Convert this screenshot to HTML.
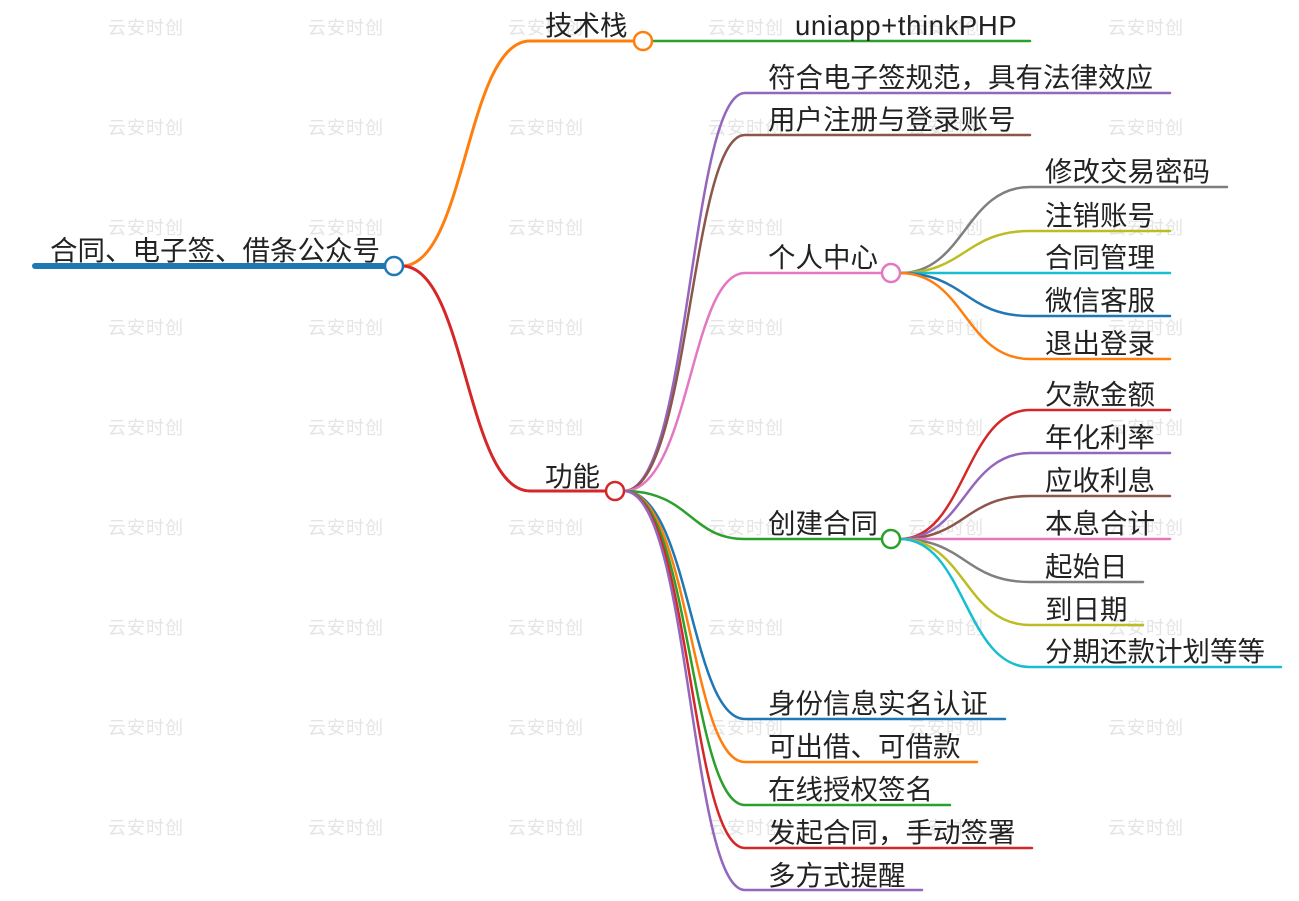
<!DOCTYPE html>
<html><head><meta charset="utf-8"><style>
html,body{margin:0;padding:0;background:#fff;}
svg{display:block;}
text{font-family:"Liberation Sans","Noto Sans CJK SC",sans-serif;font-size:27.5px;fill:#222;}
.wm{font-size:18px;fill:#e4e4e4;letter-spacing:1px;}
</style></head><body>
<svg width="1299" height="901" viewBox="0 0 1299 901" xmlns="http://www.w3.org/2000/svg">
<g class="wmg">
<text class="wm" x="108" y="34">云安时创</text><text class="wm" x="308" y="34">云安时创</text><text class="wm" x="508" y="34">云安时创</text><text class="wm" x="708" y="34">云安时创</text><text class="wm" x="908" y="34">云安时创</text><text class="wm" x="1108" y="34">云安时创</text>
<text class="wm" x="108" y="134">云安时创</text><text class="wm" x="308" y="134">云安时创</text><text class="wm" x="508" y="134">云安时创</text><text class="wm" x="708" y="134">云安时创</text><text class="wm" x="908" y="134">云安时创</text><text class="wm" x="1108" y="134">云安时创</text>
<text class="wm" x="108" y="234">云安时创</text><text class="wm" x="308" y="234">云安时创</text><text class="wm" x="508" y="234">云安时创</text><text class="wm" x="708" y="234">云安时创</text><text class="wm" x="908" y="234">云安时创</text><text class="wm" x="1108" y="234">云安时创</text>
<text class="wm" x="108" y="334">云安时创</text><text class="wm" x="308" y="334">云安时创</text><text class="wm" x="508" y="334">云安时创</text><text class="wm" x="708" y="334">云安时创</text><text class="wm" x="908" y="334">云安时创</text><text class="wm" x="1108" y="334">云安时创</text>
<text class="wm" x="108" y="434">云安时创</text><text class="wm" x="308" y="434">云安时创</text><text class="wm" x="508" y="434">云安时创</text><text class="wm" x="708" y="434">云安时创</text><text class="wm" x="908" y="434">云安时创</text><text class="wm" x="1108" y="434">云安时创</text>
<text class="wm" x="108" y="534">云安时创</text><text class="wm" x="308" y="534">云安时创</text><text class="wm" x="508" y="534">云安时创</text><text class="wm" x="708" y="534">云安时创</text><text class="wm" x="908" y="534">云安时创</text><text class="wm" x="1108" y="534">云安时创</text>
<text class="wm" x="108" y="634">云安时创</text><text class="wm" x="308" y="634">云安时创</text><text class="wm" x="508" y="634">云安时创</text><text class="wm" x="708" y="634">云安时创</text><text class="wm" x="908" y="634">云安时创</text><text class="wm" x="1108" y="634">云安时创</text>
<text class="wm" x="108" y="734">云安时创</text><text class="wm" x="308" y="734">云安时创</text><text class="wm" x="508" y="734">云安时创</text><text class="wm" x="708" y="734">云安时创</text><text class="wm" x="908" y="734">云安时创</text><text class="wm" x="1108" y="734">云安时创</text>
<text class="wm" x="108" y="834">云安时创</text><text class="wm" x="308" y="834">云安时创</text><text class="wm" x="508" y="834">云安时创</text><text class="wm" x="708" y="834">云安时创</text><text class="wm" x="908" y="834">云安时创</text><text class="wm" x="1108" y="834">云安时创</text>
</g>
<g fill="none" stroke-linecap="round">
<line x1="35" y1="266" x2="385" y2="266" stroke="#1f77b4" stroke-width="6"/>
<path d="M402,266 C466,266 466,41 530,41" stroke="#ff7f0e" stroke-width="3"/>
<line x1="530" y1="41" x2="634" y2="41" stroke="#ff7f0e" stroke-width="3"/>
<path d="M402,266 C466,266 466,491 530,491" stroke="#d62728" stroke-width="3"/>
<line x1="530" y1="491" x2="606" y2="491" stroke="#d62728" stroke-width="3"/>
<line x1="652" y1="41" x2="1030" y2="41" stroke="#2ca02c" stroke-width="2.5"/>
<path d="M624,491 C690,491 690,93 745,93 L1170,93" stroke="#9467bd" stroke-width="2.5"/>
<path d="M624,491 C690,491 690,135 745,135 L1030,135" stroke="#8c564b" stroke-width="2.5"/>
<path d="M624,491 C690,491 690,273 745,273 L882,273" stroke="#e377c2" stroke-width="2.5"/>
<path d="M624,491 C690,491 690,539 745,539 L882,539" stroke="#2ca02c" stroke-width="2.5"/>
<path d="M624,491 C690,491 690,719 745,719 L1005,719" stroke="#1f77b4" stroke-width="2.5"/>
<path d="M624,491 C690,491 690,762 745,762 L977,762" stroke="#ff7f0e" stroke-width="2.5"/>
<path d="M624,491 C690,491 690,805 745,805 L950,805" stroke="#2ca02c" stroke-width="2.5"/>
<path d="M624,491 C690,491 690,848 745,848 L1032,848" stroke="#d62728" stroke-width="2.5"/>
<path d="M624,491 C690,491 690,890 745,890 L922,890" stroke="#9467bd" stroke-width="2.5"/>
<path d="M900,273 C965,273 965,187 1030,187 L1227,187" stroke="#7f7f7f" stroke-width="2.5"/>
<path d="M900,273 C965,273 965,231 1030,231 L1170,231" stroke="#bcbd22" stroke-width="2.5"/>
<path d="M900,273 L1170,273" stroke="#17becf" stroke-width="2.5"/>
<path d="M900,273 C965,273 965,316 1030,316 L1170,316" stroke="#1f77b4" stroke-width="2.5"/>
<path d="M900,273 C965,273 965,359 1030,359 L1170,359" stroke="#ff7f0e" stroke-width="2.5"/>
<path d="M900,539 C965,539 965,410 1030,410 L1170,410" stroke="#d62728" stroke-width="2.5"/>
<path d="M900,539 C965,539 965,453 1030,453 L1170,453" stroke="#9467bd" stroke-width="2.5"/>
<path d="M900,539 C965,539 965,496 1030,496 L1170,496" stroke="#8c564b" stroke-width="2.5"/>
<path d="M900,539 L1170,539" stroke="#e377c2" stroke-width="2.5"/>
<path d="M900,539 C965,539 965,582 1030,582 L1143,582" stroke="#7f7f7f" stroke-width="2.5"/>
<path d="M900,539 C965,539 965,625 1030,625 L1143,625" stroke="#bcbd22" stroke-width="2.5"/>
<path d="M900,539 C965,539 965,667 1030,667 L1281,667" stroke="#17becf" stroke-width="2.5"/>
</g>
<g fill="#fff" stroke-width="2.5">
<circle cx="394" cy="266" r="9" stroke="#1f77b4"/>
<circle cx="643" cy="41" r="9" stroke="#ff7f0e"/>
<circle cx="615" cy="491" r="9" stroke="#d62728"/>
<circle cx="891" cy="273" r="9" stroke="#e377c2"/>
<circle cx="891" cy="539" r="9" stroke="#2ca02c"/>
</g>
<g>
<text x="50" y="260">合同、电子签、借条公众号</text>
<text x="545" y="35">技术栈</text>
<text x="545" y="486">功能</text>
<text x="795" y="35" style="letter-spacing:0.6px">uniapp+thinkPHP</text>
<text x="768" y="87">符合电子签规范，具有法律效应</text>
<text x="768" y="129">用户注册与登录账号</text>
<text x="768" y="267">个人中心</text>
<text x="768" y="533">创建合同</text>
<text x="768" y="713">身份信息实名认证</text>
<text x="768" y="756">可出借、可借款</text>
<text x="768" y="799">在线授权签名</text>
<text x="768" y="842">发起合同，手动签署</text>
<text x="768" y="885">多方式提醒</text>
<text x="1045" y="181">修改交易密码</text>
<text x="1045" y="225">注销账号</text>
<text x="1045" y="267">合同管理</text>
<text x="1045" y="310">微信客服</text>
<text x="1045" y="353">退出登录</text>
<text x="1045" y="404">欠款金额</text>
<text x="1045" y="447">年化利率</text>
<text x="1045" y="490">应收利息</text>
<text x="1045" y="533">本息合计</text>
<text x="1045" y="576">起始日</text>
<text x="1045" y="619">到日期</text>
<text x="1045" y="661">分期还款计划等等</text>
</g>
</svg>
</body></html>
